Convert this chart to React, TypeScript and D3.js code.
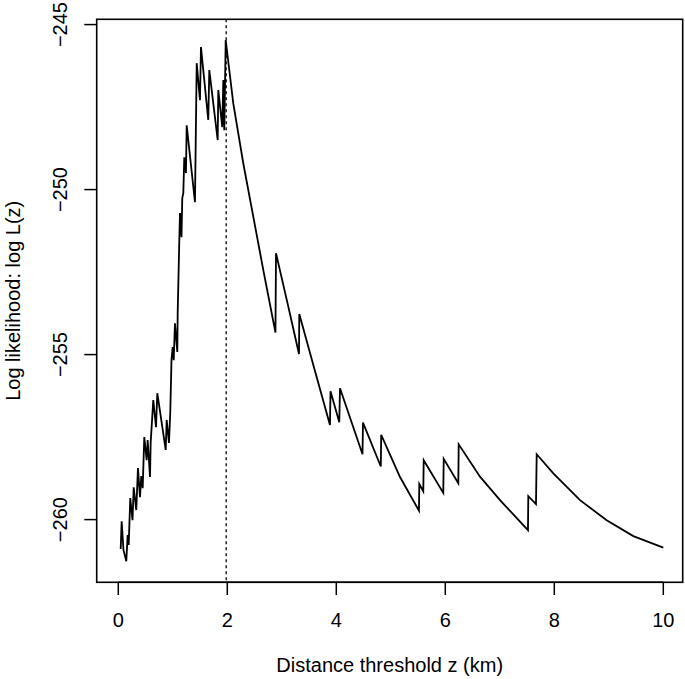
import React from 'react';
import * as d3 from 'd3';

// distance threshold z (km) and log likelihood
const zValues = [
  0.044, 0.062, 0.095, 0.147, 0.172, 0.191, 0.22, 0.261, 0.283, 0.33,
  0.361, 0.398, 0.422, 0.448, 0.477, 0.521, 0.539, 0.582, 0.594, 0.642,
  0.692, 0.716, 0.87, 0.888, 0.93, 0.954, 0.976, 0.998, 1.017, 1.04,
  1.083, 1.09, 1.119, 1.132, 1.16, 1.174, 1.193, 1.211, 1.242, 1.255,
  1.407, 1.439, 1.499, 1.517, 1.651, 1.67, 1.824, 1.835, 1.908, 1.927,
  1.945, 1.971, 2.11, 2.294, 2.477, 2.661, 2.884, 2.894, 3.105, 3.316,
  3.321, 3.609, 3.884, 3.894, 4.055, 4.068, 4.481, 4.49, 4.817, 4.824,
  5.169, 5.517, 5.523, 5.596, 5.604, 5.963, 5.971, 6.239, 6.246, 6.637,
  7.004, 7.517, 7.523, 7.664, 7.677, 7.982, 8.472, 8.961, 9.45, 10.0,
];
const logLik = [
  -260.89, -260.05, -260.92, -261.26, -260.47, -260.77, -259.35, -260.02, -259.02, -259.71,
  -258.44, -259.32, -258.68, -259.05, -257.5, -258.2, -257.59, -258.71, -257.68, -256.38,
  -257.2, -256.17, -257.89, -256.98, -257.68, -256.74, -255.17, -254.77, -255.17, -254.05,
  -254.92, -253.74, -251.59, -250.71, -251.44, -250.26, -250.11, -249.02, -249.5, -248.05,
  -250.38, -246.17, -247.29, -245.68, -247.89, -246.38, -248.5, -246.98, -248.11, -246.68,
  -248.2, -245.47, -247.39, -249.21, -250.82, -252.44, -254.33, -251.93, -253.44, -254.98,
  -253.77, -255.5, -257.13, -256.11, -257.05, -256.02, -258.02, -257.06, -258.39, -257.43,
  -258.71, -259.73, -258.92, -259.14, -258.2, -259.19, -258.16, -258.9, -257.72, -258.7,
  -259.41, -260.32, -259.29, -259.53, -258.02, -258.6, -259.41, -260.02, -260.5, -260.85,
];
const xTicks = [0, 2, 4, 6, 8, 10];
const yTicks = [-260, -255, -250, -245];
const bestZ = 1.98;

const W = 685;
const H = 679;
const left = 96.7;
const right = 682.7;
const top = 19.3;
const bottom = 582.3;
const font = 'Liberation Sans, Arial, Helvetica, sans-serif';

const fmt = (v: number) => (v < 0 ? '\u2212' + Math.abs(v) : String(v));

const App = () => {
  const x = d3.scaleLinear().domain([-0.396, 10.356]).range([left, right]);
  const y = d3.scaleLinear().domain([-261.9, -244.84]).range([bottom, top]);

  const pts = zValues.map((z, i) => [z, logLik[i]] as [number, number]);
  const line = d3
    .line<[number, number]>()
    .x((d) => x(d[0]))
    .y((d) => y(d[1]));

  return (
    <svg
      width={W}
      height={H}
      style={{ position: 'absolute', left: 0, top: 0, background: '#fff' }}
      fontFamily={font}
    >
      <rect x={0} y={0} width={W} height={H} fill="#fff" />
      {/* best threshold */}
      <line
        x1={x(bestZ)}
        x2={x(bestZ)}
        y1={top}
        y2={bottom}
        stroke="#000"
        strokeWidth={1.3}
        strokeDasharray="3,3"
      />
      <path d={line(pts) || ''} fill="none" stroke="#000" strokeWidth={1.8} strokeLinejoin="miter" />
      <rect
        x={left}
        y={top}
        width={right - left}
        height={bottom - top}
        fill="none"
        stroke="#000"
        strokeWidth={1.6}
      />
      {/* x axis */}
      <line x1={x(0)} x2={x(10)} y1={bottom} y2={bottom} stroke="#000" strokeWidth={1.6} />
      {xTicks.map((t) => (
        <g key={t}>
          <line x1={x(t)} x2={x(t)} y1={bottom} y2={bottom + 12.7} stroke="#000" strokeWidth={1.5} />
          <text x={x(t)} y={627} fontSize={20} textAnchor="middle">
            {t}
          </text>
        </g>
      ))}
      <text x={(left + right) / 2} y={672} fontSize={20} textAnchor="middle">
        Distance threshold z (km)
      </text>
      {/* y axis */}
      {yTicks.map((t) => (
        <g key={t}>
          <line x1={left - 12.4} x2={left} y1={y(t)} y2={y(t)} stroke="#000" strokeWidth={1.5} />
          <text
            transform={`translate(67,${y(t)}) rotate(-90)`}
            fontSize={20}
            textAnchor="middle"
          >
            {fmt(t)}
          </text>
        </g>
      ))}
      <text
        transform={`translate(19.5,${(top + bottom) / 2}) rotate(-90)`}
        fontSize={20}
        textAnchor="middle"
      >
        Log likelihood: log L(z)
      </text>
    </svg>
  );
};

export default App;
